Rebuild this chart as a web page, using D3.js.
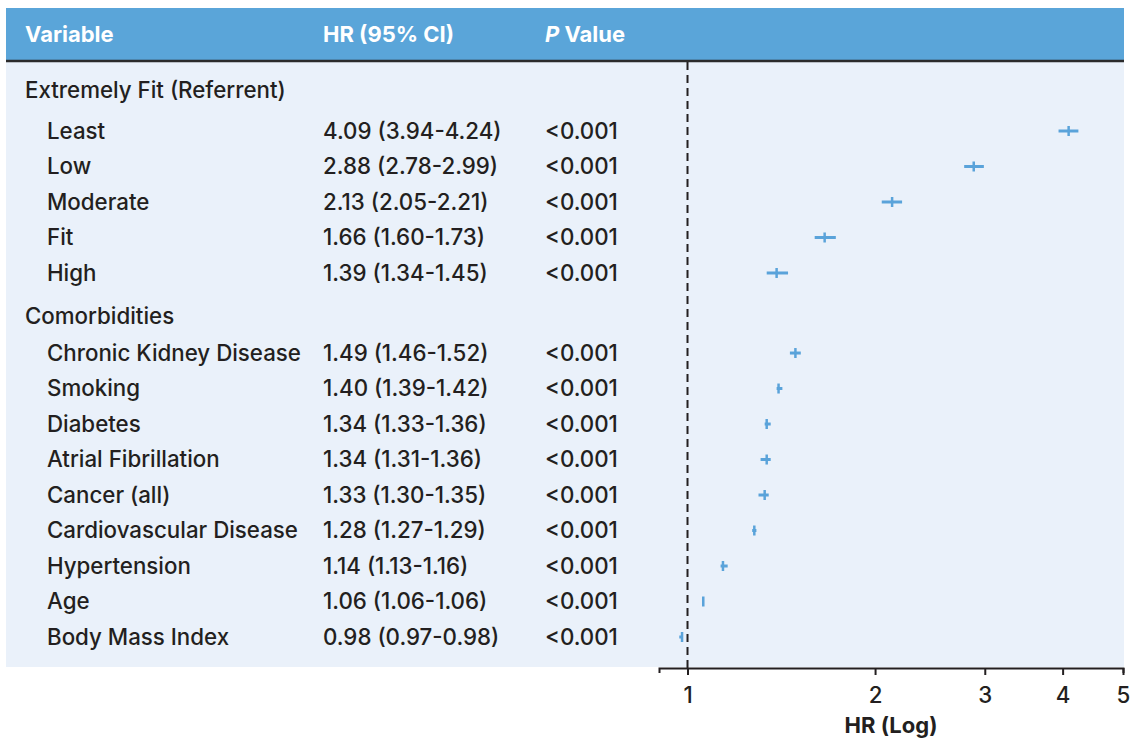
<!DOCTYPE html>
<html>
<head>
<meta charset="utf-8">
<script src="https://cdn.jsdelivr.net/npm/d3@7"></script>
<style>
  html, body { margin: 0; padding: 0; background: #ffffff; }
  svg { display: block; }
  text { font-family: Inter, "Noto Sans", sans-serif; fill: #231f20; }
</style>
</head>
<body>
<svg id="chart" width="1132" height="744"></svg>
<script>
// ---- data ----
const sections = ["Extremely Fit (Referrent)", "Comorbidities"];
const sectionOf = [0, 0, 0, 0, 0, 1, 1, 1, 1, 1, 1, 1, 1, 1];
const variables = ["Least", "Low", "Moderate", "Fit", "High",
  "Chronic Kidney Disease", "Smoking", "Diabetes", "Atrial Fibrillation",
  "Cancer (all)", "Cardiovascular Disease", "Hypertension", "Age", "Body Mass Index"];
const hr    = [4.09, 2.88, 2.13, 1.66, 1.39, 1.49, 1.40, 1.34, 1.34, 1.33, 1.28, 1.14, 1.06, 0.98];
const lower = [3.94, 2.78, 2.05, 1.60, 1.34, 1.46, 1.39, 1.33, 1.31, 1.30, 1.27, 1.13, 1.06, 0.97];
const upper = [4.24, 2.99, 2.21, 1.73, 1.45, 1.52, 1.42, 1.36, 1.36, 1.35, 1.29, 1.16, 1.06, 0.98];
const hrLabels = ["4.09 (3.94-4.24)", "2.88 (2.78-2.99)", "2.13 (2.05-2.21)", "1.66 (1.60-1.73)",
  "1.39 (1.34-1.45)", "1.49 (1.46-1.52)", "1.40 (1.39-1.42)", "1.34 (1.33-1.36)",
  "1.34 (1.31-1.36)", "1.33 (1.30-1.35)", "1.28 (1.27-1.29)", "1.14 (1.13-1.16)",
  "1.06 (1.06-1.06)", "0.98 (0.97-0.98)"];
const pLabels = ["<0.001", "<0.001", "<0.001", "<0.001", "<0.001", "<0.001", "<0.001",
  "<0.001", "<0.001", "<0.001", "<0.001", "<0.001", "<0.001", "<0.001"];
const xTicks = [1, 2, 3, 4, 5];
const xDomain = [0.9, 5];
const refValue = 1;

// ---- layout ----
const svg = d3.select("#chart");
const headerTop = 8, headerBottom = 60, panelBottom = 667;
const panelLeft = 6, panelRight = 1124;
const colVar = 25, colItem = 47, colHR = 323, colP = 545;
const fontSize = 22.3;
const blue = "#5aa5d9", panel = "#eaf1fa", mark = "#5aa3da", ink = "#231f20";
const firstSectionAfter = 1.155, sectionAfter = 1.035, sectionBefore = 0.22;

// slot positions (section rows and item rows)
const rows = [];
let slot = 0, prevSec = -1;
variables.forEach((v, i) => {
  if (sectionOf[i] !== prevSec) {
    if (prevSec !== -1) slot += sectionBefore;
    rows.push({ type: "section", label: sections[sectionOf[i]], slot: slot });
    slot += (prevSec === -1 ? firstSectionAfter : sectionAfter);
    prevSec = sectionOf[i];
  }
  rows.push({ type: "item", i: i, slot: slot });
  slot += 1;
});
slot -= 1;
const y = d3.scaleLinear().domain([0, slot]).range([90, 637]);
const x = d3.scaleLog().domain(xDomain).range([659, 1123]);

// header and panel
svg.append("rect").attr("x", panelLeft).attr("y", headerTop)
  .attr("width", panelRight - panelLeft).attr("height", headerBottom - headerTop).attr("fill", blue);
svg.append("rect").attr("x", panelLeft).attr("y", headerBottom)
  .attr("width", panelRight - panelLeft).attr("height", panelBottom - headerBottom).attr("fill", panel);
svg.append("line").attr("x1", panelLeft).attr("x2", panelRight)
  .attr("y1", headerBottom + 1).attr("y2", headerBottom + 1)
  .attr("stroke", "#2b2b2b").attr("stroke-width", 2.5);

const hy = 34;
const htxt = svg.append("g").attr("font-size", 22).attr("font-weight", 700);
htxt.append("text").attr("x", colVar).attr("y", hy).attr("dy", "0.35em").style("fill", "#fff").text("Variable");
htxt.append("text").attr("x", colHR).attr("y", hy).attr("dy", "0.35em").style("fill", "#fff").text("HR (95% CI)");
const pv = htxt.append("text").attr("x", colP).attr("y", hy).attr("dy", "0.35em").style("fill", "#fff");
pv.append("tspan").attr("font-style", "italic").text("P");
pv.append("tspan").text(" Value");

// reference line
svg.append("line").attr("x1", x(refValue)).attr("x2", x(refValue))
  .attr("y1", headerBottom + 2).attr("y2", panelBottom + 1)
  .attr("stroke", ink).attr("stroke-width", 2).attr("stroke-dasharray", "8,5");

// rows text
const g = svg.append("g").attr("font-size", fontSize).attr("font-weight", 500);
rows.forEach(r => {
  const yy = y(r.slot);
  if (r.type === "section") {
    g.append("text").attr("x", colVar).attr("y", yy).attr("dy", "0.35em").text(r.label);
  } else {
    g.append("text").attr("x", colItem).attr("y", yy).attr("dy", "0.35em").text(variables[r.i]);
    g.append("text").attr("x", colHR).attr("y", yy).attr("dy", "0.35em").text(hrLabels[r.i]);
    g.append("text").attr("x", colP).attr("y", yy).attr("dy", "0.35em").text(pLabels[r.i]);
  }
});

// markers
const items = rows.filter(r => r.type === "item");
const mg = svg.append("g").attr("stroke", mark).attr("stroke-width", 3);
mg.selectAll("line.ci").data(items).join("line").attr("class", "ci")
  .attr("x1", r => x(lower[r.i])).attr("x2", r => x(upper[r.i]))
  .attr("y1", r => y(r.slot)).attr("y2", r => y(r.slot));
mg.selectAll("line.pt").data(items).join("line").attr("class", "pt")
  .attr("x1", r => x(hr[r.i])).attr("x2", r => x(hr[r.i]))
  .attr("y1", r => y(r.slot) - 5).attr("y2", r => y(r.slot) + 5)
  .attr("stroke-width", 2.5);

// axis
const axis = d3.axisBottom(x).tickValues(xTicks).tickFormat(d3.format("d"))
  .tickSize(7).tickSizeOuter(5).tickPadding(12);
const ag = svg.append("g").attr("transform", `translate(0,${panelBottom + 1})`).call(axis);
ag.select(".domain").attr("stroke", ink).attr("stroke-width", 2);
ag.selectAll(".tick line").attr("stroke", ink).attr("stroke-width", 2);
ag.selectAll(".tick text").attr("font-size", fontSize).attr("font-weight", 500)
  .attr("font-family", null).style("fill", ink);
svg.append("text").attr("x", (x.range()[0] + x.range()[1]) / 2).attr("y", 725).attr("dy", "0.35em")
  .attr("text-anchor", "middle").attr("font-size", 22).attr("font-weight", 700).text("HR (Log)");
</script>
</body>
</html>
